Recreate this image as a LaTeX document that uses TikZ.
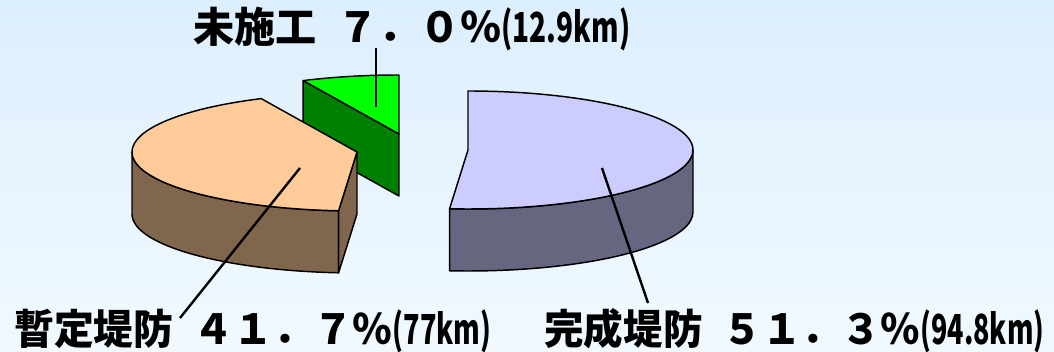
\documentclass[tikz,border=0pt]{standalone}
\usepackage{graphicx}
\usepackage{fontspec}
\setmainfont{Noto Sans CJK JP}
\definecolor{bgtop}{RGB}{220,239,254}
\definecolor{bgbot}{RGB}{241,249,255}
\definecolor{mitop}{RGB}{0,255,0}
\definecolor{miside}{RGB}{0,128,0}
\definecolor{zatop}{RGB}{255,204,153}
\definecolor{zaside}{RGB}{128,102,76}
\definecolor{kantop}{RGB}{204,204,255}
\definecolor{kanside}{RGB}{102,102,128}
% label fitted to a given width, height kept
\newcommand{\lbltext}[4]{\resizebox{#1}{\height}{#2\hspace{0.5em}#3\scalebox{0.68}[1]{#4}}}
\begin{document}
\begin{tikzpicture}[x=0.75pt,y=0.75pt,yscale=-1]

      \shade[top color=bgtop, bottom color=bgbot] (0,0) rectangle (1054,352);
      \useasboundingbox (0,0) rectangle (1054,352);

      \begin{scope}[every path/.style={draw=black, line width=1.1pt, line join=round}]
        % mishiko
        \path[fill=miside] (399,134) -- ++(244.8:225 and 59) -- ++(0,62) -- (399,196) -- cycle;
        \path[fill=mitop] (399,134) -- ++(244.8:225 and 59)
          arc[start angle=244.8, end angle=270, x radius=225, y radius=59] -- cycle;
        % zantei
        \path[fill=zaside] (357,152) ++(94.7:225 and 59)
          arc[start angle=94.7, end angle=180, x radius=225, y radius=59] -- ++(0,62)
          arc[start angle=180, end angle=94.7, x radius=225, y radius=59] -- cycle;
        \path[fill=zaside] (357,152) -- ++(94.7:225 and 59) -- ++(0,62) -- (357,214) -- cycle;
        \path[fill=zatop] (357,152) -- ++(94.7:225 and 59)
          arc[start angle=94.7, end angle=244.8, x radius=225, y radius=59] -- cycle;
        % kansei
        \path[fill=kanside] (468,150) ++(0:225 and 59)
          arc[start angle=0, end angle=94.7, x radius=225, y radius=59] -- ++(0,62)
          arc[start angle=94.7, end angle=0, x radius=225, y radius=59] -- cycle;
        \path[fill=kantop] (468,150) -- ++(-90:225 and 59)
          arc[start angle=-90, end angle=94.7, x radius=225, y radius=59] -- cycle;
      \end{scope}

      \begin{scope}[every node/.style={anchor=base west, inner sep=0pt, font=\fontsize{31}{37}\selectfont\bfseries}]
        \node (mi) at (193,43)  {\lbltext{327.75pt}{未施工}{７．０％}{(12.9km)}};
        \node (za) at (14,345)  {\lbltext{357.75pt}{暫定堤防}{４１．７％}{(77km)}};
        \node (ka) at (544,345) {\lbltext{375pt}{完成堤防}{５１．３％}{(94.8km)}};
      \end{scope}

      \coordinate (mi1) at (376,107);
      \coordinate (mi2) at (376,48);
      \coordinate (za1) at (300,168);
      \coordinate (za2) at (180,318);
      \coordinate (ka1) at (602,168);
      \coordinate (ka2) at (648,303);

      \begin{scope}[every path/.style={draw=black, line width=1.8pt}]
        \path (mi1) -- (mi2);
        \path (za1) -- (za2);
        \path (ka1) -- (ka2);
      \end{scope}

    \end{tikzpicture}
\end{document}
